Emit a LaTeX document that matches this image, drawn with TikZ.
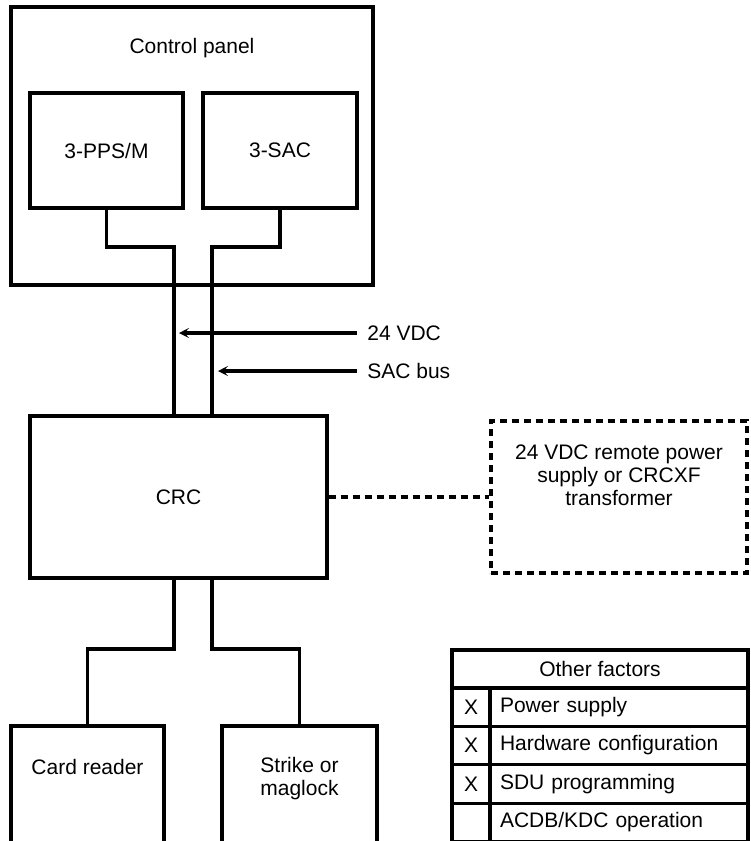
\documentclass[tikz,border=0pt]{standalone}
\usepackage{fontspec}
\setmainfont{Liberation Sans}
\usetikzlibrary{positioning,arrows.meta}

\begin{document}
\begin{tikzpicture}[
    x=0.5pt, y=-0.5pt,
    font=\fontsize{10.5pt}{11.5pt}\selectfont,
    box/.style={draw, line width=1.6pt, align=center, inner sep=0pt},
    dbox/.style={box, dash pattern=on 3.5pt off 2.5pt},
    txt/.style={align=center, inner sep=0pt},
    wire/.style={line width=1.6pt},
    arrow/.style={-{Stealth[length=5pt, width=5pt, inset=2.2pt]}, line width=1.6pt},
    tag/.style={anchor=west, inner sep=5pt},
    cell/.style={draw, line width=1.6pt, inner sep=0pt, minimum height=19.25pt}
]
    \useasboundingbox (0,0) rectangle (750,841);

    % control panel
    \node[box, minimum width=181pt, minimum height=139pt] (panel) at (192,146) {};
    \node[txt] (paneltxt) at (192,48) {Control panel};
    \node[box, minimum width=76.5pt, minimum height=57.5pt] (pps) at (106.5,150.5) {3-PPS/M};
    \node[box, minimum width=77pt, minimum height=57.5pt]   (sac) at (280,150.5)   {3-SAC};

    % CRC and its supply
    \node[box, minimum width=148.5pt, minimum height=81pt] (crc) at (178.5,497) {CRC};
    \node[dbox, minimum width=128pt, minimum height=76pt]  (psu) at (619,497) {};
    \node[txt] (psutxt) at (619,475) {24 VDC remote power\\supply or CRCXF\\transformer};

    % field devices
    \node[box, minimum width=76.5pt, minimum height=60pt] (reader) at (87.5,786) {};
    \node[txt] (readertxt) at (87.5,767) {Card reader};
    \node[box, minimum width=77.5pt, minimum height=60pt] (strike) at (299.5,786) {};
    \node[txt] (striketxt) at (299.5,778.5) {Strike or\\maglock};

    % wiring
    \coordinate (pwr) at (174,247);
    \coordinate (bus) at (212,247);
    \draw[wire] (pps.south) |- (pwr) -- (pwr |- crc.north);
    \draw[wire] (sac.south) |- (bus) -- (bus |- crc.north);
    \coordinate (rdjog) at (174,649);
    \coordinate (stjog) at (212,649);
    \draw[wire] (rdjog |- crc.south) -- (rdjog) -| (reader.north);
    \draw[wire] (stjog |- crc.south) -- (stjog) -| (strike.north);
    \draw[wire, dash pattern=on 3.5pt off 2.5pt] (crc.east) -- (psu.west);

    % wire labels
    \node[tag] (vdc) at (357,333) {24 VDC};
    \node[tag] (sacbus) at (357,371) {SAC bus};
    \coordinate (vdcpt) at (179,333);
    \coordinate (buspt) at (218,371);
    \draw[arrow] (vdc.west) -- (vdcpt);
    \draw[arrow] (sacbus.west) -- (buspt);

    % other factors table
    \node[cell, minimum width=148pt, minimum height=19pt] (hdr) at (600,669) {Other factors};
    \foreach \mk/\txt [count=\i] in {X/Power supply, X/Hardware configuration,
                                     X/SDU programming, {}/{ACDB/KDC operation}} {
        \node[cell, minimum width=19pt] (mk\i) at (471,{707+(\i-1)*38.5}) {\mk};
        \node[cell, text width=119pt, align=left, inner xsep=5pt] (fac\i) at (619,{707+(\i-1)*38.5}) {\txt};
    }
\end{tikzpicture}
\end{document}
